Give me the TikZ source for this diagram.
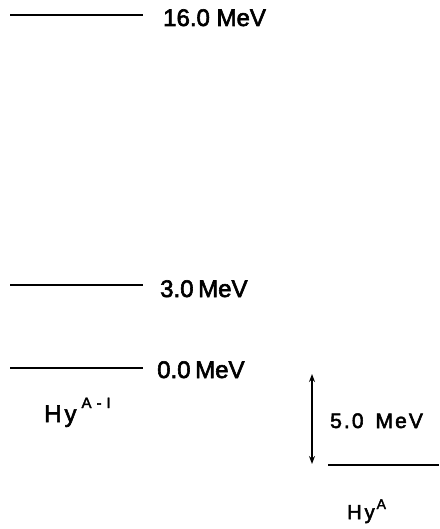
\documentclass[tikz,border=0pt]{standalone}
\usepackage{fontspec}
\setmainfont{Liberation Sans}
\newfontfamily\labfont[FakeBold=2.5]{Liberation Sans}
\usetikzlibrary{arrows.meta}
\newcommand{\fsz}[1]{\fontsize{#1}{#1}\selectfont}
\tikzset{
  level/.style={line width=1.6pt},
  lab/.style={font=\labfont\fsz{24}, anchor=base west, inner sep=0pt},
  gap/.style={{Stealth[length=8pt,width=6pt]}-{Stealth[length=8pt,width=6pt]}, line width=1.4pt}
}
\begin{document}
\begin{tikzpicture}[x=1pt,y=-1pt]
\useasboundingbox (0,0) rectangle (439,529);
% levels of Hy^{A-1}
\coordinate (a1) at (10,15);  \coordinate (a2) at (143,15);
\coordinate (b1) at (10,285); \coordinate (b2) at (143,285);
\coordinate (c1) at (10,368); \coordinate (c2) at (143,368);
\draw[level] (a1) -- (a2);
\draw[level] (b1) -- (b2);
\draw[level] (c1) -- (c2);
\node[lab] (la) at (163,26) {16.0 MeV};
\node[lab] (lb) at (160,297) {3.0\hspace{-2pt} MeV};
\node[lab] (lc) at (157,378) {0.0\hspace{-2pt} MeV};
\node[lab] (hy1) at (44,422) {H\hspace{3pt}y\hspace{5pt}\raisebox{14pt}{\fsz{15}A\hspace{5pt}-\hspace{5pt}I}};
% Hy^A
\coordinate (d1) at (328,465); \coordinate (d2) at (439,465);
\draw[level] (d1) -- (d2);
\coordinate (t1) at (312,374); \coordinate (t2) at (312,464);
\draw[gap] (t1) -- (t2);
\node[lab, font=\labfont\fsz{21}\addfontfeature{LetterSpace=10}] (ld) at (330,428) {5.0\hspace{4pt} MeV};
\node[lab, font=\labfont\fsz{20}] (hy2) at (347,519) {H\hspace{3pt}y\hspace{2pt}\raisebox{10pt}{\fsz{14}A}};
\end{tikzpicture}
\end{document}
